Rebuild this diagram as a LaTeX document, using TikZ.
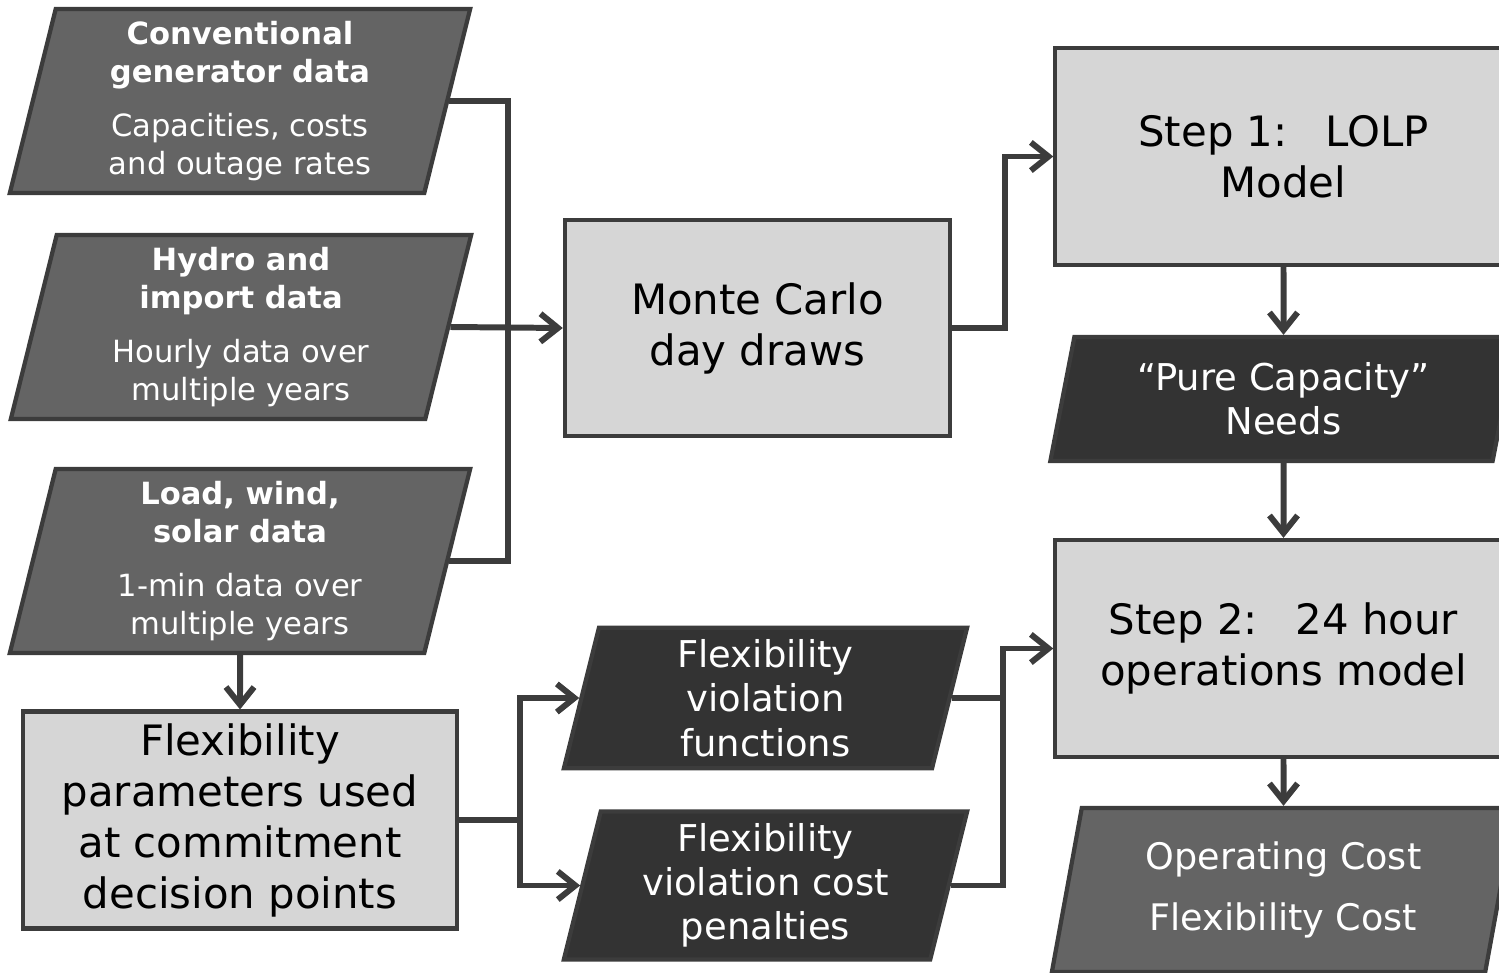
\documentclass[tikz,border=0pt]{standalone}
\usepackage{fontspec}
\setmainfont{DejaVu Sans}
\usepackage{tikz}
\usetikzlibrary{shapes.geometric,arrows.meta,positioning,calc}
\definecolor{datagray}{HTML}{646464}
\definecolor{needgray}{HTML}{333333}
\definecolor{boxgray}{HTML}{D6D6D6}
\definecolor{linegray}{HTML}{3C3C3C}

\begin{document}
\begin{tikzpicture}[x=0.01cm, y=-0.01cm, >={Straight Barb[length=5pt,width=8pt]},
    flow/.style={draw=linegray, line width=1.7pt},
    process/.style={rectangle, draw=linegray, line width=1.2pt, fill=boxgray, align=center,
        font=\fontsize{11.9}{14.5}\selectfont},
    slanted/.style={trapezium, trapezium left angle=76, trapezium right angle=104,
        trapezium stretches body, draw=linegray, line width=1.2pt, text=white, align=center},
    datainput/.style={slanted, fill=datagray, minimum width=4.6cm, minimum height=1.78cm,
        font=\fontsize{8.7}{10.8}\selectfont},
    result/.style={slanted, fill=needgray, font=\fontsize{10.5}{12.6}\selectfont}]
    \useasboundingbox (0,0) rectangle (1499,973);

    % Input data
    \node[datainput] (gen) at (240,101) {\textbf{Conventional}\\\textbf{generator data}\\[4.8pt]Capacities, costs\\and outage rates};
    \node[datainput] (hydro) at (241,327) {\textbf{Hydro and}\\\textbf{import data}\\[4.8pt]Hourly data over\\multiple years};
    \node[datainput] (load) at (240,561) {\textbf{Load, wind,}\\\textbf{solar data}\\[4.8pt]1-min data over\\multiple years};

    % Models
    \node[process, minimum width=3.85cm, minimum height=2.16cm] (mc) at (757.5,328) {Monte Carlo\\day draws};
    \node[process, minimum width=4.56cm, minimum height=2.17cm] (step1) at (1283.5,156.5) {Step 1:\hspace{0.9em}LOLP\\Model};
    \node[process, minimum width=4.56cm, minimum height=2.17cm] (step2) at (1283.5,648.5) {Step 2:\hspace{0.9em}24 hour\\operations model};
    \node[process, minimum width=4.33cm, minimum height=2.16cm] (flex) at (240,820) {Flexibility\\parameters used\\at commitment\\decision points};

    % Intermediate results and outputs
    \node[result, minimum width=4.66cm, minimum height=1.24cm] (pcap) at (1283.5,399) {“Pure Capacity”\\Needs};
    \node[result, minimum width=4.03cm, minimum height=1.30cm] (viofun) at (765.5,698) {Flexibility\\violation\\functions};
    \node[result, minimum width=4.03cm, minimum height=1.35cm] (viocost) at (765.5,885.5) {Flexibility\\violation cost\\penalties};
    \node[slanted, fill=datagray, minimum width=4.63cm, minimum height=1.64cm, font=\fontsize{10.4}{12.6}\selectfont] (opcost) at (1283.5,890) {Operating Cost\\[4.8pt]Flexibility Cost};

    % Connectors
    \coordinate (inbus) at (508,327);
    \coordinate (viobus) at (1003,698);
    \draw[flow] (gen.east) -| (inbus) |- (load.east);
    \draw[flow, ->] (hydro.east) -- (mc.west);
    \draw[flow, ->] (mc.east) -- ++(53,0) |- (step1.west);
    \draw[flow, ->] (step1.south) -- (pcap.north);
    \draw[flow, ->] (pcap.south) -- (step2.north);
    \draw[flow, ->] (step2.south) -- (opcost.north);
    \draw[flow, ->] (load.south) -- (flex.north);
    \draw[flow, ->] (flex.east) -- ++(61,0) |- (viofun.west);
    \draw[flow, ->] (flex.east) -- ++(61,0) |- (viocost.west);
    \draw[flow] (viofun.east) -- (viobus);
    \draw[flow, ->] (viocost.east) -| (viobus) |- (step2.west);
\end{tikzpicture}
\end{document}
